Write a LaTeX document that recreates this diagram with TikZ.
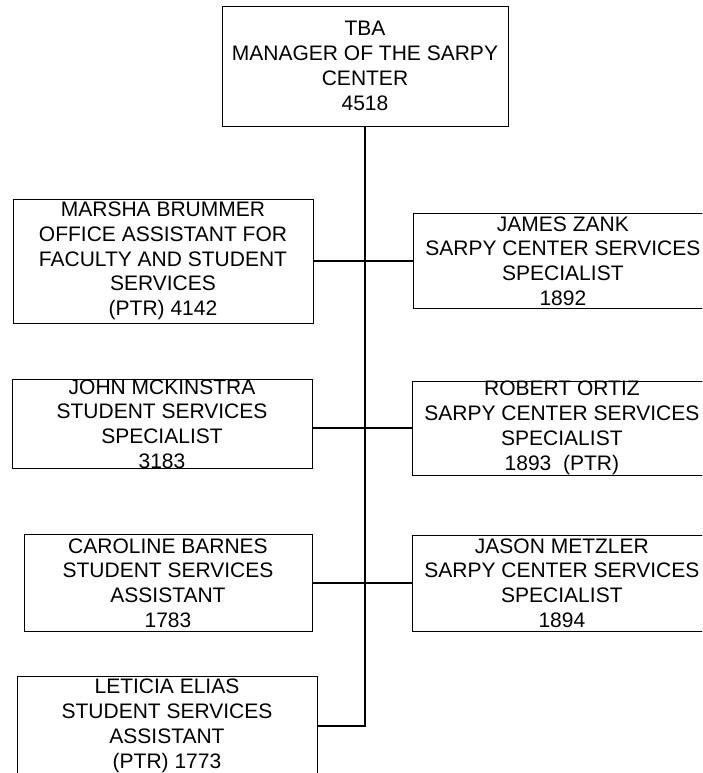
\documentclass[tikz,border=0pt]{standalone}
\usepackage{fontspec}
\setmainfont{Liberation Sans}
\usepackage{tikz}
\usetikzlibrary{positioning}
\tikzset{
  staffbox/.style={
    rectangle, draw=black, line width=0.9pt,
    minimum width=#1, minimum height=90pt,
    font=\fontsize{21}{24.8}\selectfont, align=center,
    inner sep=0pt
  },
  staffbox/.default=300pt,
  orgline/.style={line width=1.6pt, black},
}
\begin{document}
\begin{tikzpicture}[x=1pt, y=-1pt, node distance=100pt]
    \useasboundingbox (0,0) rectangle (702,773);
    \clip (0,0) rectangle (702,773);
    \node[staffbox=286pt, minimum height=120pt] (manager) at (365,66) {TBA\\MANAGER OF THE SARPY\\CENTER\\4518};
    % left column
    \node[staffbox, minimum height=124pt] (brummer) at (163,261) {MARSHA BRUMMER\\OFFICE ASSISTANT FOR\\FACULTY AND STUDENT\\SERVICES\\(PTR) 4142};
    \node[staffbox, minimum height=88pt] (mckinstra) at (162,424) {JOHN MCKINSTRA\\STUDENT SERVICES\\SPECIALIST\\3183};
    \node[staffbox=288pt, minimum height=97pt] (barnes) at (168,583) {CAROLINE BARNES\\STUDENT SERVICES\\ASSISTANT\\1783};
    \node[staffbox, minimum height=100pt] (elias) at (167,726) {LETICIA ELIAS\\STUDENT SERVICES\\ASSISTANT\\(PTR) 1773};
    % right column
    \node[staffbox=298pt, minimum height=95pt, right=of brummer] (zank) {JAMES ZANK\\SARPY CENTER SERVICES\\SPECIALIST\\1892};
    \node[staffbox=298pt, minimum height=94pt, right=of mckinstra, yshift=-4pt] (ortiz) {ROBERT ORTIZ\\SARPY CENTER SERVICES\\SPECIALIST\\1893~~(PTR)};
    \node[staffbox=298pt, minimum height=96pt, right=of barnes] (metzler) {JASON METZLER\\SARPY CENTER SERVICES\\SPECIALIST\\1894};
    \draw[orgline] (manager.south) |- (elias.east);
    \draw[orgline] (brummer.east) -- (zank.west);
    \draw[orgline] (ortiz.west -| mckinstra.east) -- (ortiz.west);
    \draw[orgline] (barnes.east) -- (metzler.west);
\end{tikzpicture}
\end{document}
